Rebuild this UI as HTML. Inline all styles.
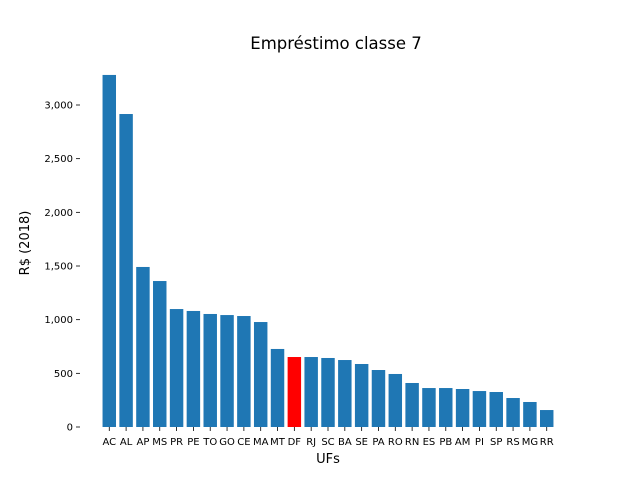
<!DOCTYPE html>
<html><head><meta charset="utf-8"><style>
body{margin:0;background:#fff;}
svg text{font-family:"DejaVu Sans","Liberation Sans",sans-serif;}
</style></head><body>
<svg id="chart" width="640" height="480" xmlns="http://www.w3.org/2000/svg">
<rect width="640" height="480" fill="#fff"/>
<text x="336" y="49" font-size="16.5" text-anchor="middle">Empréstimo classe 7</text>
<text x="328" y="463" font-size="13" text-anchor="middle">UFs</text>
<text x="0" y="0" font-size="13" text-anchor="middle" transform="translate(29,243) rotate(-90)">R$ (2018)</text>
<g id="bars"></g><g id="yaxis"></g><g id="xaxis"></g>
</svg>
<script>
const categories=["AC","AL","AP","MS","PR","PE","TO","GO","CE","MA","MT","DF","RJ","SC","BA","SE","PA","RO","RN","ES","PB","AM","PI","SP","RS","MG","RR"];
const values=[3280,2916,1491,1360,1099,1081,1053,1043,1034,978,727,652,652,643,624,587,531,494,410,363,363,354,335,326,270,233,158];
const highlight=["DF"];
const yTicks=[0,500,1000,1500,2000,2500,3000];
const yTickLabels=["0","500","1,000","1,500","2,000","2,500","3,000"];
const NS="http://www.w3.org/2000/svg";
const L=80,R=576,Y0=427,pxPerUnit=322/3000;
const n=categories.length,span=(n-1+0.8)*1.1,step=(R-L)/span;
const xc=i=>L+(0.4+0.05*(n-1+0.8))*step+i*step;
const y=v=>Y0-v*pxPerUnit;
const bars=document.getElementById('bars'),ya=document.getElementById('yaxis'),xa=document.getElementById('xaxis');
function mk(t,a,p){const e=document.createElementNS(NS,t);for(const k in a)e.setAttribute(k,a[k]);p.appendChild(e);return e;}
categories.forEach((c,i)=>{
 const w=0.8*step;
 const r=mk('rect',{x:xc(i)-w/2,y:y(values[i]),width:w,height:values[i]*pxPerUnit,fill:highlight.includes(c)?'#ff0000':'#1f77b4'},bars);
 
 
 const tk=mk('line',{x1:xc(i),x2:xc(i),y1:Y0,y2:Y0+4,stroke:'#000','stroke-width':0.8},xa);
 
 
 const t=mk('text',{x:xc(i),y:Y0+18,'font-size':10,'text-anchor':'middle'},xa);
 t.textContent=c;
 
 
});
yTicks.forEach((v,i)=>{
 const tk=mk('line',{x1:L-4,x2:L,y1:y(v),y2:y(v),stroke:'#000','stroke-width':0.8},ya);
 
 
 const t=mk('text',{x:L-7,y:y(v)+3.5,'font-size':10,'text-anchor':'end'},ya);
 t.textContent=yTickLabels[i];
 
 
});
</script>
</body></html>
